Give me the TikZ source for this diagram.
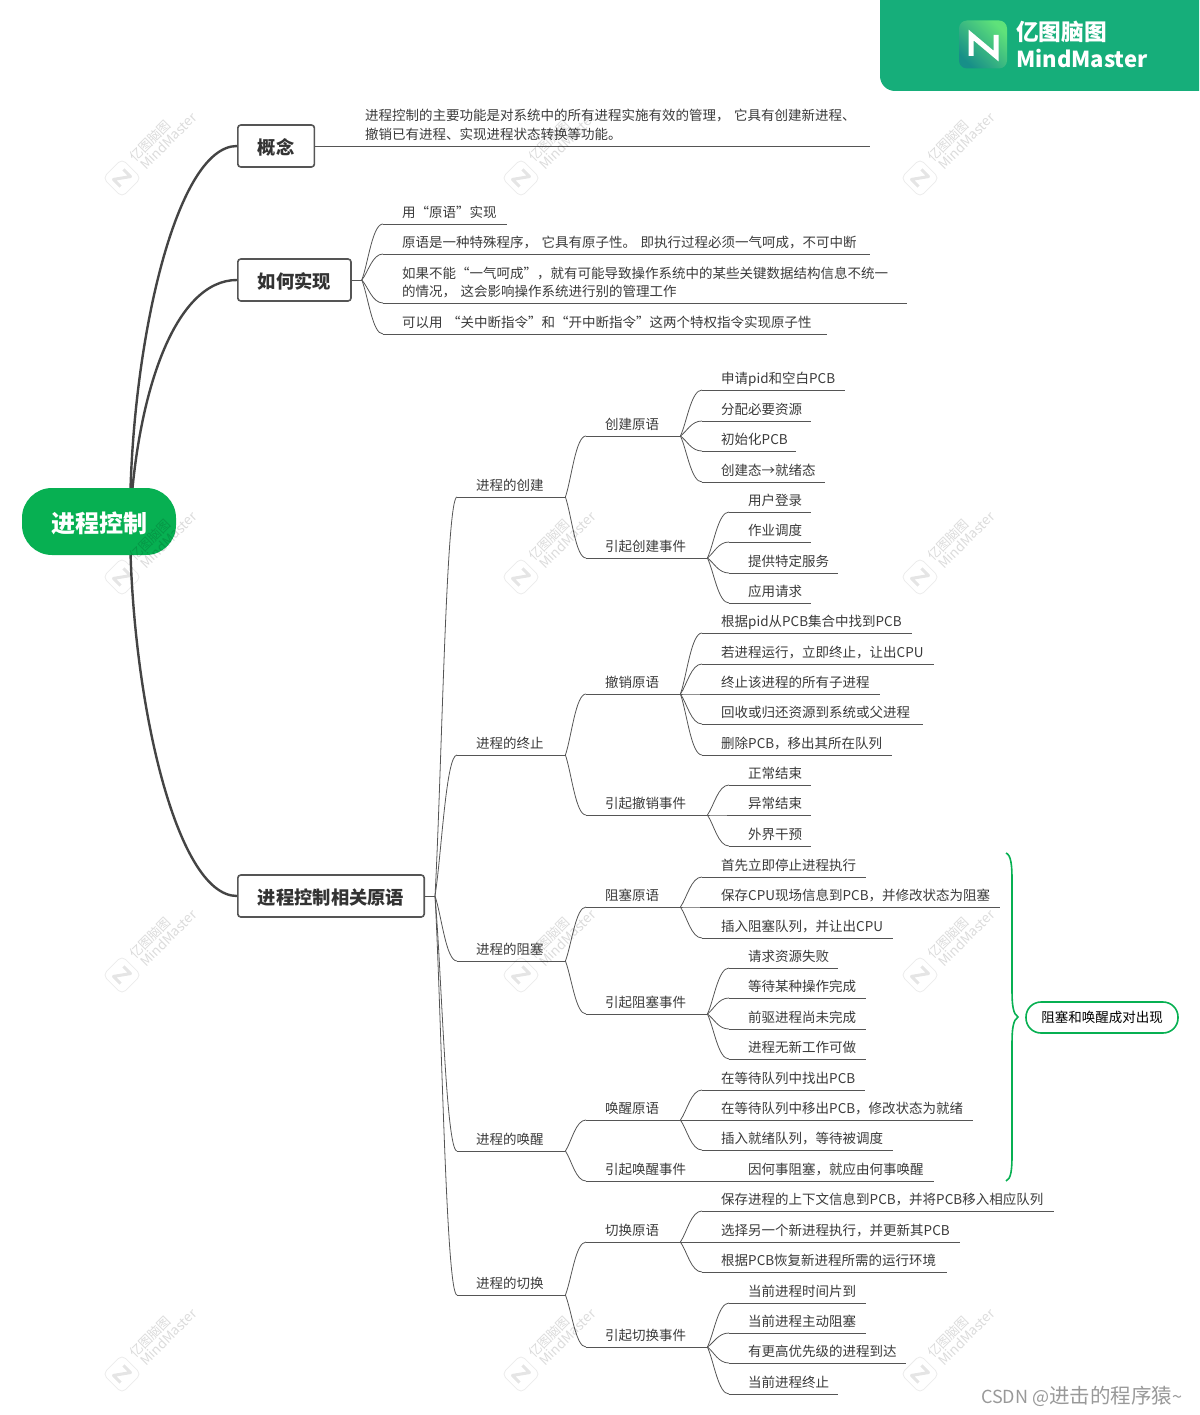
\documentclass[tikz,border=0pt]{standalone}
\usepackage{fontspec}
\setmainfont{Noto Sans CJK SC}
\usetikzlibrary{calc}

\definecolor{brandgreen}{HTML}{16AE7A}
\definecolor{iconlight}{HTML}{5FE27A}
\definecolor{icondark}{HTML}{178F88}
\definecolor{rootgreen}{HTML}{07B052}
\definecolor{branchgrey}{HTML}{444444}
\definecolor{twiggrey}{HTML}{555555}
\definecolor{inkgrey}{HTML}{3A3A3A}

% indent of the text on its underline
\newcommand{\leafpad}{\hspace*{19pt}\strut}
\newcommand{\notepad}{\hspace*{51pt}\strut}
% fork curve from a parent point to the start of a child underline
\newcommand{\twig}[2]{\draw[twigline] (#1) .. controls ($(#1)!.3!(#2.south west)$) and ($(#1 |- #2.south west)!.5!(#2.south west)$) .. (#2.south west);}
\newcommand{\bough}[3]{\draw[boughline] (#1) .. controls (#3) and ($(#2.west)+(-62,0)$) .. (#2.west);}

\begin{document}
\begin{tikzpicture}[
	x=1pt, y=-1pt,
	font=\fontsize{13.5}{18}\selectfont,
	text=inkgrey,
	twigline/.style={line width=0.8pt, twiggrey},
	boughline/.style={line width=2.4pt, branchgrey},
	leaf/.style={
		anchor=south west, inner xsep=0pt, inner ysep=0.5pt,
		text width=#1, align=left,
		execute at begin node={\leafpad},
		append after command={(\tikzlastnode.south west) edge[twigline] (\tikzlastnode.south east)}
	},
	note/.style={
		anchor=south west, inner xsep=0pt, inner ysep=0.5pt,
		text width=#1, align=left,
		execute at begin node={\notepad},
		append after command={(\tikzlastnode.south west) edge[twigline] (\tikzlastnode.south east)}
	},
	topic/.style={
		rectangle, rounded corners=3pt, anchor=west,
		draw=twiggrey, line width=1.6pt, fill=white,
		minimum height=42pt, inner xsep=20pt, inner ysep=0pt,
		text height=20pt, text depth=3pt,
		font=\fontsize{18.3}{22}\selectfont\bfseries, text=black!80
	},
	rootnode/.style={
		rectangle, rounded corners=30pt, fill=rootgreen,
		minimum width=154pt, minimum height=67pt,
		text height=25pt, text depth=4pt,
		font=\fontsize{24}{28}\selectfont\bfseries, text=white
	},
	callout/.style={
		rectangle, rounded corners=15pt, draw=rootgreen, line width=1.6pt, fill=white,
		minimum width=152pt, minimum height=31pt, inner sep=0pt, text=black
	},
	wmbox/.style={
		rectangle, rounded corners=5pt, draw=black, draw opacity=0.08, line width=0.8pt,
		minimum size=27pt, transform shape
	},
	wmink/.style={black, opacity=0.1, line width=3pt, line join=round},
	wmtext/.style={inner sep=0pt, text=black, text opacity=0.14, transform shape}
]
\useasboundingbox (0,0) rectangle (1199,1415);

% Banner top right
\fill[brandgreen] (880,0) [rounded corners=15pt] -- (880,91) [sharp corners] -- (1199,91) -- (1199,0) -- cycle;
\node[rectangle, rounded corners=8pt, minimum size=48pt, inner sep=0pt, shading=axis, left color=iconlight, right color=icondark, shading angle=-45] (brandicon) at (983,44.5) {};
\draw[white, line width=5pt, miter limit=3] (971,56) -- (971,35) -- (996,56) -- (996,35);
\node[anchor=west, inner sep=0pt, text=white, font=\fontsize{22.7}{26}\selectfont\bfseries] (brandcn) at (1016,32) {亿图脑图};
\node[anchor=west, inner sep=0pt, text=white, font=\fontsize{22}{26}\selectfont\bfseries] (branden) at (1016,59) {MindMaster};

% Topics on the left
\coordinate (rootout) at (130,521);
\node[topic] (con)  at (237,146) {概念};
\node[topic] (how)  at (237,280) {如何实现};
\node[topic] (prim) at (237,896) {进程控制相关原语};

\bough{rootout}{con}{130,350}
\bough{rootout}{how}{137,392}
\bough{rootout}{prim}{130,692}

\node[rootnode] (root) at (99,521.5) {进程控制};

% Concept note
\node[note=556pt] (connote) at (314,146) {进程控制的主要功能是对系统中的所有进程实施有效的管理， 它具有创建新进程、\\[1pt]\notepad 撤销已有进程、实现进程状态转换等功能。};

% How it is done
\coordinate (howfork) at ($(how.east)+(10,0)$);
\draw[twigline] (how.east) -- (howfork);
\node[leaf=124pt] (how1) at (383,224) {用“原语”实现};
\node[leaf=487pt] (how2) at (383,254) {原语是一种特殊程序， 它具有原子性。 即执行过程必须一气呵成，不可中断};
\node[leaf=524pt] (how3) at (383,303) {如果不能“一气呵成”，就有可能导致操作系统中的某些关键数据结构信息不统一\\\leafpad 的情况， 这会影响操作系统进行别的管理工作};
\node[leaf=444pt] (how4) at (383,334) {可以用 “关中断指令”和“开中断指令”这两个特权指令实现原子性};
\foreach \leafname in {how1,how2,how3,how4} {
	\twig{howfork}{\leafname}
}

% Primitives, first level
\coordinate (primfork) at ($(prim.east)+(10,0)$);
\draw[twigline] (prim.east) -- (primfork);
\node[leaf=108pt] (cre) at (457,497) {进程的创建};
\node[leaf=108pt] (ter) at (457,755) {进程的终止};
\node[leaf=108pt] (blk) at (457,961) {进程的阻塞};
\node[leaf=108pt] (wak) at (457,1151) {进程的唤醒};
\node[leaf=108pt] (swi) at (457,1295) {进程的切换};
\foreach \leafname in {cre,ter,blk,wak,swi} {
	\twig{primfork}{\leafname}
}

% Second level
\node[leaf=94pt]  (crep) at (586,436) {创建原语};
\node[leaf=121pt] (cree) at (586,558) {引起创建事件};
\node[leaf=94pt]  (terp) at (586,694) {撤销原语};
\node[leaf=121pt] (tere) at (586,815) {引起撤销事件};
\node[leaf=94pt]  (blkp) at (586,907) {阻塞原语};
\node[leaf=121pt] (blke) at (586,1014) {引起阻塞事件};
\node[leaf=94pt]  (wakp) at (586,1120) {唤醒原语};
\node[leaf=121pt] (wake) at (586,1181) {引起唤醒事件};
\node[leaf=94pt]  (swip) at (586,1242) {切换原语};
\node[leaf=121pt] (swie) at (586,1347) {引起切换事件};
\twig{cre.south east}{crep} \twig{cre.south east}{cree}
\twig{ter.south east}{terp} \twig{ter.south east}{tere}
\twig{blk.south east}{blkp} \twig{blk.south east}{blke}
\twig{wak.south east}{wakp} \twig{wak.south east}{wake}
\twig{swi.south east}{swip} \twig{swi.south east}{swie}

% Creation
\node[leaf=143pt] (crep1) at (702,390) {申请pid和空白PCB};
\node[leaf=109pt] (crep2) at (702,421) {分配必要资源};
\node[leaf=94pt]  (crep3) at (702,451) {初始化PCB};
\node[leaf=123pt] (crep4) at (702,482) {创建态→就绪态};
\foreach \leafname in {crep1,crep2,crep3,crep4} {
	\twig{crep.south east}{\leafname}
}
\node[leaf=82pt]  (cree1) at (729,512) {用户登录};
\node[leaf=82pt]  (cree2) at (729,542) {作业调度};
\node[leaf=109pt] (cree3) at (729,573) {提供特定服务};
\node[leaf=82pt]  (cree4) at (729,603) {应用请求};
\foreach \leafname in {cree1,cree2,cree3,cree4} {
	\twig{cree.south east}{\leafname}
}

% Termination
\node[leaf=210pt] (terp1) at (702,633) {根据pid从PCB集合中找到PCB};
\node[leaf=232pt] (terp2) at (702,664) {若进程运行，立即终止，让出CPU};
\node[leaf=178pt] (terp3) at (702,694) {终止该进程的所有子进程};
\node[leaf=221pt] (terp4) at (702,724) {回收或归还资源到系统或父进程};
\node[leaf=190pt] (terp5) at (702,755) {删除PCB，移出其所在队列};
\foreach \leafname in {terp1,terp2,terp3,terp4,terp5} {
	\twig{terp.south east}{\leafname}
}
\node[leaf=82pt] (tere1) at (729,785) {正常结束};
\node[leaf=82pt] (tere2) at (729,815) {异常结束};
\node[leaf=82pt] (tere3) at (729,846) {外界干预};
\foreach \leafname in {tere1,tere2,tere3} {
	\twig{tere.south east}{\leafname}
}

% Blocking
\node[leaf=164pt] (blkp1) at (702,877) {首先立即停止进程执行};
\node[leaf=298pt] (blkp2) at (702,907) {保存CPU现场信息到PCB，并修改状态为阻塞};
\node[leaf=191pt] (blkp3) at (702,938) {插入阻塞队列，并让出CPU};
\foreach \leafname in {blkp1,blkp2,blkp3} {
	\twig{blkp.south east}{\leafname}
}
\node[leaf=109pt] (blke1) at (729,968) {请求资源失败};
\node[leaf=137pt] (blke2) at (729,998) {等待某种操作完成};
\node[leaf=137pt] (blke3) at (729,1029) {前驱进程尚未完成};
\node[leaf=137pt] (blke4) at (729,1059) {进程无新工作可做};
\foreach \leafname in {blke1,blke2,blke3,blke4} {
	\twig{blke.south east}{\leafname}
}

% Wake-up
\node[leaf=163pt] (wakp1) at (702,1090) {在等待队列中找出PCB};
\node[leaf=271pt] (wakp2) at (702,1120) {在等待队列中移出PCB，修改状态为就绪};
\node[leaf=191pt] (wakp3) at (702,1150) {插入就绪队列，等待被调度};
\foreach \leafname in {wakp1,wakp2,wakp3} {
	\twig{wakp.south east}{\leafname}
}
\node[leaf=205pt] (wake1) at (729,1181) {因何事阻塞，就应由何事唤醒};
\twig{wake.south east}{wake1}

% Switching
\node[leaf=352pt] (swip1) at (702,1211) {保存进程的上下文信息到PCB，并将PCB移入相应队列};
\node[leaf=258pt] (swip2) at (702,1242) {选择另一个新进程执行，并更新其PCB};
\node[leaf=245pt] (swip3) at (702,1272) {根据PCB恢复新进程所需的运行环境};
\foreach \leafname in {swip1,swip2,swip3} {
	\twig{swip.south east}{\leafname}
}
\node[leaf=137pt] (swie1) at (729,1303) {当前进程时间片到};
\node[leaf=137pt] (swie2) at (729,1333) {当前进程主动阻塞};
\node[leaf=177pt] (swie3) at (729,1363) {有更高优先级的进程到达};
\node[leaf=109pt] (swie4) at (729,1394) {当前进程终止};
\foreach \leafname in {swie1,swie2,swie3,swie4} {
	\twig{swie.south east}{\leafname}
}

% Brace and its callout
\draw[rootgreen, line width=1.6pt] (1006,853) .. controls (1011,855) and (1012,865) .. (1012,880) -- (1012,990) .. controls (1012,1005) and (1013,1014) .. (1018,1017) .. controls (1013,1020) and (1012,1029) .. (1012,1044) -- (1012,1155) .. controls (1012,1170) and (1011,1179) .. (1006,1181);
\node[callout] (pair) at (1102,1017.5) {阻塞和唤醒成对出现};

% Watermarks
\foreach \wmx in {122,521,920} {
	\foreach \wmy in {178,577,975,1374} {
		\begin{scope}[shift={(\wmx,\wmy)}, rotate=45]
			\node[wmbox] (wm\wmx\wmy) at (0,0) {};
			\draw[wmink] (-7,5) -- (-7,-5) -- (7,5) -- (7,-5);
			\node[wmtext, font=\fontsize{13}{14}\selectfont] at (46,-6.4) {亿图脑图};
			\node[wmtext, font=\fontsize{13.5}{14}\selectfont] at (59,6.4) {MindMaster};
		\end{scope}
	}
}

\node[anchor=west, inner sep=0pt, text=black!40, font=\fontsize{18}{22}\selectfont] (csdn) at (981,1396) {CSDN @{\fontsize{20.5}{22}\selectfont 进击的程序猿}\textasciitilde};

\end{tikzpicture}
\end{document}
